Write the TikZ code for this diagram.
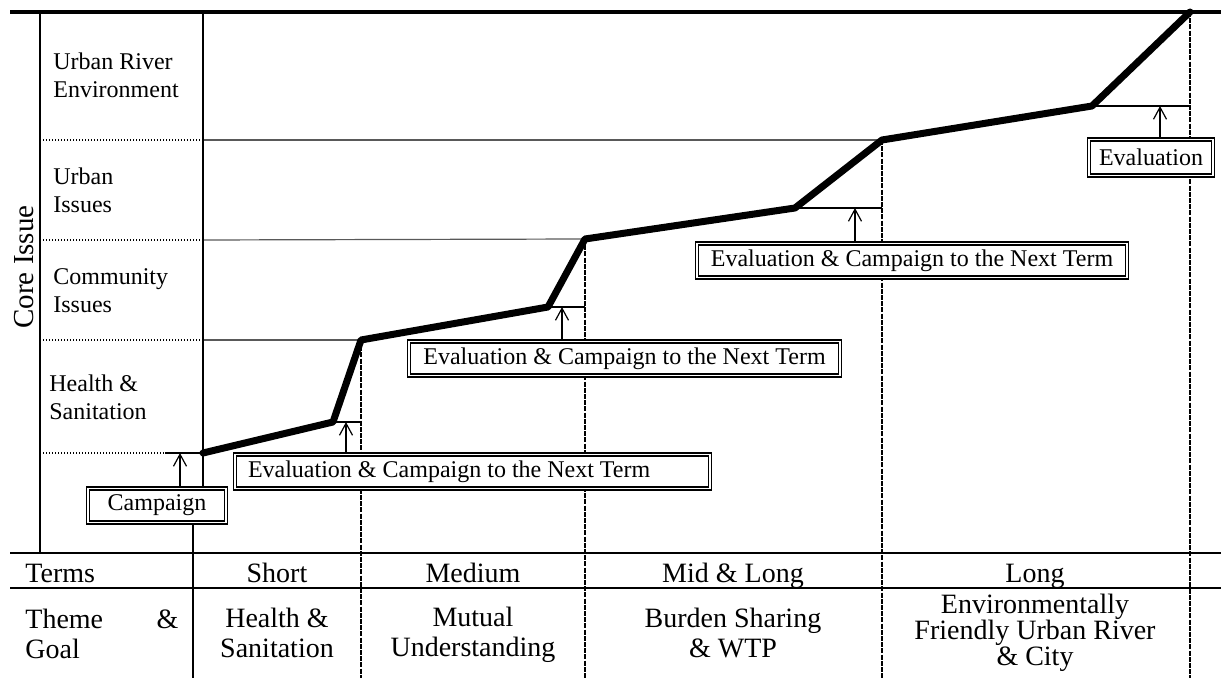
\documentclass[tikz,border=0pt]{standalone}
\usepackage{fontspec}
\setmainfont{Liberation Serif}
\usetikzlibrary{arrows.meta}
\newcommand\labelfont{\fontsize{12}{14}\selectfont}
\newcommand\cellfont{\fontsize{14}{15}\selectfont}
\begin{document}
\begin{tikzpicture}[x=0.5pt,y=-0.5pt,
  rulethick/.style={line width=2.4pt},
  rulethin/.style={line width=1pt},
  stair/.style={line width=3.5pt, line cap=round, line join=round},
  levelline/.style={line width=1pt},
  gridleft/.style={line width=0.6pt, dash pattern=on 0.6pt off 0.9pt},
  gridright/.style={line width=0.6pt, black!65},
  termline/.style={line width=1.2pt, dash pattern=on 2.5pt off 0.6pt},
  tagbox/.style={draw, fill=white, double, line width=0.8pt, double distance=0.6pt,
    minimum height=17pt, inner ysep=0pt, font=\labelfont},
  riser/.style={line width=0.6pt, -{Straight Barb[length=6pt,width=6.5pt]}},
  rowlabel/.style={anchor=base west, align=left, inner sep=0pt, font=\labelfont},
  tcell/.style={anchor=base, align=center, inner sep=0pt, font=\cellfont},
]
\useasboundingbox (0,0) rectangle (1221,678);

% staircase corners
\coordinate (p0) at (203,453);
\coordinate (p1) at (333,422);
\coordinate (p2) at (361,340);
\coordinate (p3) at (548,307);
\coordinate (p4) at (585,239);
\coordinate (p5) at (795,208);
\coordinate (p6) at (882,140);
\coordinate (p7) at (1092,106);
\coordinate (p8) at (1190,12);

% frame of the issue axis
\draw[rulethick] (10,12) -- (1221,12);
\draw[rulethin] (40,14) -- (40,553);

% level guide lines
\draw[gridleft] (40,140) -- (203,140);
\draw[gridright] (203,140) -- (p6);
\draw[gridleft] (40,240) -- (203,240);
\draw[gridright] (203,240) -- (p4);
\draw[gridleft] (40,340) -- (203,340);
\draw[gridright] (203,340) -- (p2);
\draw[gridleft] (40,453) -- (165,453);

% term boundaries
\draw[termline] (p2) -- (361,678);
\draw[termline] (p4) -- (585,678);
\draw[termline] (p6) -- (882,678);
\draw[termline] (p8) -- (1190,678);

% evaluation levels
\coordinate (l0) at (165,453);
\coordinate (l1) at (361,422);
\coordinate (l2) at (585,307);
\coordinate (l3) at (882,208);
\coordinate (l4) at (1190,106);
\draw[levelline] (l0) -- (p0);
\draw[levelline] (p1) -- (l1);
\draw[levelline] (p3) -- (l2);
\draw[levelline] (p5) -- (l3);
\draw[levelline] (p7) -- (l4);

% table rules
\draw[rulethin] (10,553) -- (1221,553);
\draw[rulethin] (10,588) -- (1221,588);

% progress staircase
\draw[stair] (p0) -- (p1) -- (p2) -- (p3) -- (p4) -- (p5) -- (p6) -- (p7) -- (p8);

% boxes
\node[tagbox, minimum width=69pt] (camp) at (157,505.5) {Campaign};
\node[tagbox, inner xsep=6.5pt] (ev1) at (472.5,471.5)
  {\makebox[224.5pt][l]{Evaluation \& Campaign to the Next Term}};
\node[tagbox, minimum width=215.5pt] (ev2) at (624.5,358.5)
  {Evaluation \& Campaign to the Next Term};
\node[tagbox, minimum width=215pt] (ev3) at (912,260.5)
  {Evaluation \& Campaign to the Next Term};
\node[tagbox, minimum width=62pt, minimum height=18pt] (ev4) at (1151,157.5) {Evaluation};

% vertical separators around the campaign box
\draw[rulethin] (203,14) -- (camp.north -| p0);
\draw[rulethin] (camp.south -| 193,0) -- (193,678);

% arrows from the boxes up to the levels
\coordinate (a0) at (180,453);
\coordinate (a1) at (346,422);
\coordinate (a2) at (562,307);
\coordinate (a3) at (855,208);
\coordinate (a4) at (1160,106);
\draw[riser] (camp.north -| a0) -- (a0);
\draw[riser] (ev1.north -| a1) -- (a1);
\draw[riser] (ev2.north -| a2) -- (a2);
\draw[riser] (ev3.north -| a3) -- (a3);
\draw[riser] (ev4.north -| a4) -- (a4);

% issue labels (base anchor sits on the last line)
\node[rotate=90, font=\fontsize{14.5}{16}\selectfont, inner sep=0pt] (core) at (24,267) {Core Issue};
\node[rowlabel] (r4) at (53,98) {Urban River\\Environment};
\node[rowlabel] (r3) at (53,213) {Urban\\Issues};
\node[rowlabel] (r2) at (53,313) {Community\\Issues};
\node[rowlabel] (r1) at (49,420) {Health \&\\Sanitation};

% table: terms
\node[tcell, anchor=base west] (terms) at (25,582) {Terms};
\node[tcell] (t1) at (277,582) {Short};
\node[tcell] (t2) at (473,582) {Medium};
\node[tcell] (t3) at (733,582) {Mid \& Long};
\node[tcell] (t4) at (1035,582) {Long};

% table: themes and goals
\node[tcell, anchor=base west, align=left] (theme) at (25,658) {\makebox[76.5pt][s]{Theme \&}\\Goal};
\node[tcell] (g1) at (277,657) {Health \&\\Sanitation};
\node[tcell] (g2) at (473,656) {Mutual\\Understanding};
\node[tcell] (g3) at (733,657) {Burden Sharing\\\& WTP};
\node[tcell, font=\fontsize{14}{13}\selectfont] (g4) at (1035,665) {Environmentally\\Friendly Urban River\\\& City};
\end{tikzpicture}
\end{document}
